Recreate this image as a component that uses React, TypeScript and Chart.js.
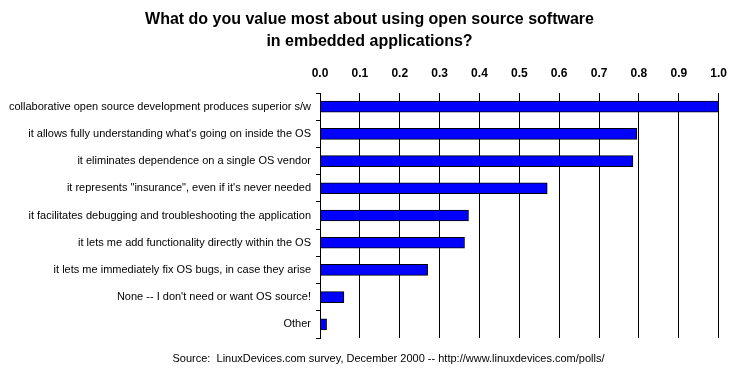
import React, { useEffect, useRef } from 'react';
import { Chart, registerables } from 'chart.js';

Chart.register(...registerables);

const titleLines = [
  'What do you value most about using open source software',
  'in embedded applications?',
];

const categories = [
  'collaborative open source development produces superior s/w',
  "it allows fully understanding what's going on inside the OS",
  'it eliminates dependence on a single OS vendor',
  'it represents "insurance", even if it\'s never needed',
  'it facilitates debugging and troubleshooting the application',
  'it lets me add functionality directly within the OS',
  'it lets me immediately fix OS bugs, in case they arise',
  "None -- I don't need or want OS source!",
  'Other',
];

const values = [1.0, 0.795, 0.785, 0.57, 0.3725, 0.3625, 0.27, 0.06, 0.0165];

const xMin = 0;
const xMax = 1.0;
const xStep = 0.1;

const sourceText =
  'Source:  LinuxDevices.com survey, December 2000 -- http://www.linuxdevices.com/polls/';

const FONT = '"Liberation Sans", Arial, sans-serif';

const textPlugin = {
  id: 'texts',
  beforeDraw(chart: any) {
    const ctx = chart.ctx;
    ctx.save();
    ctx.fillStyle = '#ffffff';
    ctx.fillRect(0, 0, chart.width, chart.height);
    ctx.restore();
  },
  afterDraw(chart: any) {
    const ctx = chart.ctx;
    ctx.save();
    ctx.fillStyle = '#000000';
    ctx.textAlign = 'center';
    ctx.textBaseline = 'middle';
    ctx.font = `bold 16px ${FONT}`;
    ctx.fillText(titleLines[0], chart.width / 2, 20);
    ctx.fillText(titleLines[1], chart.width / 2, 42);
    ctx.font = `11px ${FONT}`;
    ctx.fillText(sourceText, chart.width / 2 + 19, 359);
    ctx.restore();
  },
};

export default function App() {
  const ref = useRef<HTMLCanvasElement>(null);

  useEffect(() => {
    document.body.style.margin = '0';
    const canvas = ref.current;
    if (!canvas) return;
    const chart = new Chart(canvas, {
      type: 'bar',
      data: {
        labels: categories,
        datasets: [
          {
            data: values,
            backgroundColor: '#0000ff',
            borderColor: '#000000',
            borderWidth: 1,
            borderSkipped: false,
            barThickness: 11,
          },
        ],
      },
      options: {
        indexAxis: 'y',
        animation: false,
        responsive: false,
        devicePixelRatio: 1,
        layout: { padding: { top: 0, left: 0, right: 19, bottom: 40 } },
        plugins: {
          legend: { display: false },
          title: { display: false },
          tooltip: { enabled: false },
        },
        scales: {
          x: {
            position: 'top',
            min: xMin,
            max: xMax,
            afterFit: (scale: any) => {
              scale.height = 93;
            },
            ticks: {
              stepSize: xStep,
              color: '#000000',
              padding: 12,
              font: { family: FONT, size: 12, weight: 'bold' },
              callback: (v: any) => Number(v).toFixed(1),
            },
            grid: {
              color: '#000000',
              lineWidth: 1,
              drawTicks: false,
              drawOnChartArea: true,
            },
            border: { display: false },
          },
          y: {
            afterFit: (scale: any) => {
              scale.width = 320;
            },
            ticks: {
              color: '#000000',
              padding: 5,
              font: { family: FONT, size: 11 },
            },
            grid: {
              color: '#000000',
              drawOnChartArea: false,
              drawTicks: true,
              tickLength: 4,
              offset: true,
            },
            border: { display: true, color: '#000000', width: 1 },
          },
        },
      },
      plugins: [textPlugin],
    });
    return () => chart.destroy();
  }, []);

  return (
    <div style={{ width: 739, height: 378 }}>
      <canvas ref={ref} width={739} height={378} style={{ display: 'block' }} />
    </div>
  );
}
